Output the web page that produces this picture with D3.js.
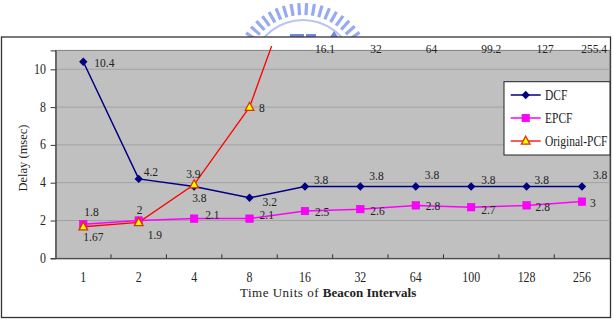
<!DOCTYPE html>
<html>
<head>
<meta charset="utf-8">
<script src="https://cdn.jsdelivr.net/npm/d3@7"></script>
<style>
  body { margin: 0; background: #fff; }
  svg text { font-family: "Liberation Serif", "DejaVu Serif", serif; fill: #222; }
</style>
</head>
<body>
<svg id="chart"></svg>
<script>
// categories (time units of beacon intervals)
const categories = ["1", "2", "4", "8", "16", "32", "64", "100", "128", "256"];
// series values
const dcf = [10.4, 4.2, 3.8, 3.2, 3.8, 3.8, 3.8, 3.8, 3.8, 3.8];
const epcf = [1.8, 2, 2.1, 2.1, 2.5, 2.6, 2.8, 2.7, 2.8, 3];
const origPcf = [1.67, 1.9, 3.9, 8, 16.1, 32, 64, 99.2, 127, 255.4];
const yTicks = [0, 2, 4, 6, 8, 10];
const seriesNames = ["DCF", "EPCF", "Original-PCF"];

// label offsets relative to each point (dx, dy of baseline)
const dcfLab = [[11, 5], [5, -3], [-2, 16], [13, 8], [9, -2], [9, -6], [9, -7], [10, -2], [8, -2], [11, -7.5]];
const epcfLab = [[1, -8], [-2, -7], [11, 0.5], [10, 0.5], [10, 5], [10, 5.5], [10, 5], [10, 6.5], [9, 5.5], [8, 5]];
const origLab = [[0, 14], [9, 17], [-8, -6.6], [9.5, 5]];

const W = 613, H = 320;
const FONT = '"Liberation Serif", "DejaVu Serif", serif';
const svg = d3.select("#chart").attr("width", W).attr("height", H);

// helper for the narrow looking glyphs of the original
function txt(g, x, y, s, size, sx = 1, anchor = "start") {
    return g.append("text")
        .attr("transform", `translate(${x},${y}) scale(${sx},1)`)
        .attr("text-anchor", anchor)
        .attr("font-family", FONT)
        .style("font-family", FONT)
        .style("font-size", size + "px")
        .text(s);
}

// faint logo watermark peeking above the frame
const logo = svg.append("g");
const lc = [303, 72];
d3.range(-165, -14, 6.5).forEach(a => {
    const r = a * Math.PI / 180;
    logo.append("line")
        .attr("x1", lc[0] + 57 * Math.cos(r)).attr("y1", lc[1] + 57 * Math.sin(r))
        .attr("x2", lc[0] + 69 * Math.cos(r)).attr("y2", lc[1] + 69 * Math.sin(r))
        .attr("stroke", "#97aaf0").attr("stroke-width", 3.2);
});
logo.append("path")
    .attr("d", d3.arc().innerRadius(51).outerRadius(53).startAngle(-1.3).endAngle(1.3)())
    .attr("transform", `translate(${lc[0]},${lc[1]})`)
    .attr("fill", "#b8c4f4");
logo.append("rect").attr("x", 290).attr("y", 34).attr("width", 14).attr("height", 3).attr("fill", "#7088e4");
logo.append("rect").attr("x", 306).attr("y", 34).attr("width", 10).attr("height", 3).attr("fill", "#7088e4");
logo.append("path").attr("d", "M330,37 L334,31 L338,37 Z").attr("fill", "#7088e4");

// outer frame
svg.append("rect")
    .attr("x", 1.5).attr("y", 37).attr("width", 609).attr("height", 280.5)
    .attr("fill", "#fff").attr("stroke", "#333").attr("stroke-width", 1.3);

const plot = { left: 55.6, right: 609.7, top: 50.4, bottom: 258.3 };

const xScale = d3.scaleBand().domain(categories).range([plot.left, plot.right]).padding(0);
const cx = c => xScale(c) + xScale.bandwidth() / 2;
const yScale = d3.scaleLinear().domain([0, 11]).range([plot.bottom, plot.top]);

// plot area
svg.append("rect")
    .attr("x", plot.left).attr("y", plot.top)
    .attr("width", plot.right - plot.left).attr("height", plot.bottom - plot.top)
    .attr("fill", "#c0c0c0").attr("stroke", "#808080").attr("stroke-width", 1);

// grid
svg.append("g").selectAll("line")
    .data(yTicks.filter(d => d > 0))
    .join("line")
    .attr("x1", plot.left).attr("x2", plot.right)
    .attr("y1", d => yScale(d)).attr("y2", d => yScale(d))
    .attr("stroke", "#a2a2a2").attr("stroke-width", 1);

// y axis
const yAxis = svg.append("g").attr("transform", `translate(${plot.left},0)`)
    .call(d3.axisLeft(yScale).tickValues(yTicks).tickSize(5).tickFormat(""));
yAxis.select(".domain").attr("stroke", "#333");
yAxis.selectAll(".tick line").attr("stroke", "#333");
yTicks.forEach(t => txt(svg, 46, yScale(t) + 4.5, t, 14, 0.85, "end"));

// x axis, ticks point inward between categories
const xAxis = svg.append("g").attr("transform", `translate(0,${plot.bottom})`)
    .call(d3.axisBottom(xScale).tickSize(0).tickFormat(""));
xAxis.select(".domain").attr("stroke", "#333");
svg.append("g").selectAll("line")
    .data(categories.slice(1))
    .join("line")
    .attr("x1", d => xScale(d)).attr("x2", d => xScale(d))
    .attr("y1", plot.bottom).attr("y2", plot.bottom - 4)
    .attr("stroke", "#333");
categories.forEach(c => txt(svg, cx(c), 282, c, 14, 0.85, "middle"));

// axis titles
const xt = svg.append("text").attr("x", 240).attr("y", 296.5)
    .style("font-family", FONT).style("font-size", "13px");
xt.append("tspan").style("letter-spacing", "0.5px").text("Time Units of ");
xt.append("tspan").style("font-weight", "bold").text("Beacon Intervals");
svg.append("text")
    .attr("transform", "translate(27,158) rotate(-90)")
    .attr("text-anchor", "middle")
    .style("font-family", FONT)
    .style("font-size", "12.5px")
    .text("Delay (msec)");

// clip so the PCF line runs out of the top
svg.append("clipPath").attr("id", "clip")
    .append("rect").attr("x", plot.left).attr("y", 46)
    .attr("width", plot.right - plot.left).attr("height", plot.bottom - 46);

const line = d3.line().x((d, i) => cx(categories[i])).y(d => yScale(d));

const series = [
    { name: "DCF", values: dcf, color: "#000080", width: 1.5 },
    { name: "EPCF", values: epcf, color: "#ff00ff", width: 1.5 },
    { name: "Original-PCF", values: origPcf, color: "#ff0000", width: 1.3 }
];

function marker(g, name, x, y) {
    if (name === "DCF") {
        g.append("path").attr("d", `M${x},${y - 4.2}L${x + 4.2},${y}L${x},${y + 4.2}L${x - 4.2},${y}Z`)
            .attr("fill", "#000080");
    } else if (name === "EPCF") {
        g.append("rect").attr("x", x - 3.7).attr("y", y - 3.7).attr("width", 7.4).attr("height", 7.4)
            .attr("fill", "#ff00ff").attr("stroke", "#e000e0").attr("stroke-width", 0.6);
    } else {
        g.append("path").attr("d", `M${x},${y - 4.8}L${x + 4.3},${y + 3.2}L${x - 4.3},${y + 3.2}Z`)
            .attr("fill", "#ffff00").attr("stroke", "#e03000").attr("stroke-width", 1.3);
    }
}

const marks = svg.append("g");
series.forEach(s => {
    marks.append("path")
        .datum(s.values)
        .attr("d", line)
        .attr("fill", "none")
        .attr("stroke", s.color)
        .attr("stroke-width", s.width)
        .attr("clip-path", "url(#clip)");
});
// markers, triangles drawn last so they sit on top
series.forEach(s => {
    s.values.forEach((v, i) => {
        if (v <= 11) marker(marks, s.name, cx(categories[i]), yScale(v));
    });
});

// data labels
const labs = svg.append("g");
dcf.forEach((v, i) => txt(labs, cx(categories[i]) + dcfLab[i][0], yScale(v) + dcfLab[i][1], v, 12.5, 0.92));
epcf.forEach((v, i) => txt(labs, cx(categories[i]) + epcfLab[i][0], yScale(v) + epcfLab[i][1], v, 12.5, 0.92));
origPcf.forEach((v, i) => {
    if (v <= 11) {
        txt(labs, cx(categories[i]) + origLab[i][0], yScale(v) + origLab[i][1], v, 12.5, 0.92);
    } else {
        // off the scale: pinned along the top edge
        const t = txt(labs, 0, 0, v, 12.5, 0.92);
        const w = t.node().getComputedTextLength() * 0.92;
        const x = Math.min(cx(categories[i]) + 10, 607 - w);
        t.attr("transform", `translate(${x},53.3) scale(0.92,1)`);
    }
});

// legend
const lg = svg.append("g");
lg.append("rect").attr("x", 504).attr("y", 81.7).attr("width", 106).attr("height", 73.3)
    .attr("fill", "#fff").attr("stroke", "#222").attr("stroke-width", 1);
series.forEach((s, i) => {
    const y = 95 + i * 23;
    lg.append("line").attr("x1", 510.7).attr("x2", 540.7).attr("y1", y).attr("y2", y)
        .attr("stroke", s.color).attr("stroke-width", s.width);
    marker(lg, s.name, 525.7, y);
    txt(lg, 545, y + 4.5, seriesNames[i], 14, 0.82);
});
</script>
</body>
</html>
